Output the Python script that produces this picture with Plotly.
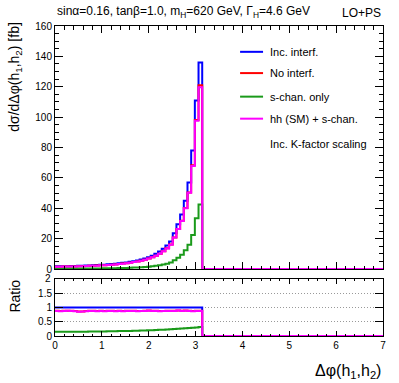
import numpy as np
import plotly.graph_objects as go
from plotly.subplots import make_subplots

# dsigma/dDeltaphi [fb], 40 bins from 0 to pi
inc_interf = [1.8, 1.8, 1.9, 1.9, 2.0, 2.0, 2.1, 2.2, 2.3, 2.4,
              2.5, 2.6, 2.8, 2.9, 3.1, 3.3, 3.5, 3.8, 4.1, 4.4,
              4.8, 5.2, 5.7, 6.3, 7.0, 7.8, 8.8, 10.0, 11.5, 13.3,
              15.5, 18.2, 23.5, 29.5, 36.0, 45.0, 57.0, 78.0, 111.0, 136.0]
no_interf = [1.59, 1.58, 1.68, 1.69, 1.77, 1.75, 1.80, 1.90, 2.01, 2.12,
             2.21, 2.27, 2.47, 2.53, 2.74, 2.91, 3.06, 3.35, 3.59, 3.88,
             4.23, 4.59, 4.98, 5.55, 6.17, 6.95, 7.76, 8.82, 10.1, 11.7,
             13.7, 16.1, 20.8, 26.4, 31.8, 40.2, 50.4, 68.3, 98.2, 121.0]
s_chan = [0.27, 0.27, 0.28, 0.29, 0.30, 0.30, 0.32, 0.33, 0.35, 0.37,
          0.39, 0.41, 0.45, 0.47, 0.51, 0.55, 0.59, 0.65, 0.71, 0.78,
          0.86, 0.95, 1.06, 1.19, 1.35, 1.55, 1.80, 2.10, 2.50, 2.95,
          3.50, 4.30, 5.80, 7.50, 9.50, 12.4, 16.0, 22.5, 33.4, 42.5]
hh_plus_s = [1.58, 1.57, 1.67, 1.69, 1.76, 1.74, 1.79, 1.89, 2.00, 2.11,
             2.20, 2.26, 2.46, 2.52, 2.73, 2.90, 3.05, 3.34, 3.57, 3.87,
             4.22, 4.58, 4.96, 5.54, 6.16, 6.94, 7.74, 8.80, 10.0, 11.7,
             13.6, 16.0, 20.7, 26.3, 31.7, 40.0, 50.2, 67.9, 97.7, 119.7]

series = [("Inc. interf.", inc_interf, "#0000ff"),
          ("No interf.", no_interf, "#ff0000"),
          ("s-chan. only", s_chan, "#1a9a1a"),
          ("hh (SM) + s-chan.", hh_plus_s, "#ff00ff")]

ratio_ticks = [0, 0.5, 1, 1.5]
ratio_labels = ["0", "0.5", "1", "1.5"]

edges = list(np.linspace(0, np.pi, 41)) + [7.0]
font = "Liberation Sans, Arial, sans-serif"

fig = make_subplots(rows=2, cols=1, shared_xaxes=False,
                    row_heights=[0.81, 0.19], vertical_spacing=0.032)

ref = np.array(inc_interf)
for name, vals, col in series:
    y = list(vals) + [0, 0]
    fig.add_trace(go.Scatter(x=edges, y=y, mode="lines", line_shape="hv",
                             line=dict(color=col, width=2), showlegend=False),
                  row=1, col=1)
    r = list(np.array(vals) / ref) + [0, 0]
    fig.add_trace(go.Scatter(x=edges, y=r, mode="lines", line_shape="hv",
                             line=dict(color=col, width=2), showlegend=False),
                  row=2, col=1)

axis_common = dict(showline=True, linecolor="black", linewidth=1, mirror="ticks",
                   ticks="inside", tickcolor="black", zeroline=False,
                   tickfont=dict(family=font, size=10, color="black"))

fig.update_xaxes(range=[0, 7], dtick=1, ticklen=7, showgrid=False,
                 minor=dict(dtick=0.2, ticks="inside", ticklen=3.5, tickcolor="black"),
                 **axis_common)
fig.update_xaxes(showticklabels=False, row=1, col=1)
fig.update_xaxes(ticklen=5, minor=dict(dtick=0.2, ticks="inside", ticklen=2.5), row=2, col=1)

fig.update_yaxes(range=[0, 160], dtick=20, ticklen=8, showgrid=False,
                 minor=dict(dtick=5, ticks="inside", ticklen=4, tickcolor="black"),
                 row=1, col=1, **axis_common)
fig.update_yaxes(range=[0, 2], tickvals=ratio_ticks, ticktext=ratio_labels,
                 ticklen=8, showgrid=True, gridcolor="#999999", griddash="1px,2px", gridwidth=1,
                 row=2, col=1, **axis_common)
# top label of the ratio axis (plotly drops it next to the upper panel)
fig.add_annotation(xref="paper", yref="y2", x=0, y=2, xshift=-2, text="2",
                   showarrow=False, xanchor="right", yanchor="middle",
                   font=dict(family=font, size=10, color="black"))

# legend drawn by hand
leg_y = [143, 129, 113.5, 99]
for (name, vals, col), ly in zip(series, leg_y):
    fig.add_shape(type="line", xref="x", yref="y", x0=3.95, x1=4.44, y0=ly, y1=ly,
                  line=dict(color=col, width=2))
    fig.add_annotation(xref="x", yref="y", x=4.55, y=ly, text=name, showarrow=False,
                       xanchor="left", yanchor="middle",
                       font=dict(family=font, size=11, color="black"))
fig.add_annotation(xref="x", yref="y", x=4.55, y=82.5, text="Inc. K-factor scaling",
                   showarrow=False, xanchor="left", yanchor="middle",
                   font=dict(family=font, size=11, color="black"))

# header
fig.add_annotation(xref="paper", yref="paper", x=0, y=1.0, yshift=4,
                   text="sinα=0.16, tanβ=1.0, m<sub>H</sub>=620 GeV, Γ<sub>H</sub>=4.6 GeV",
                   showarrow=False, xanchor="left", yanchor="bottom",
                   font=dict(family=font, size=12, color="black"))
fig.add_annotation(xref="paper", yref="paper", x=1, y=1.0, yshift=4, text="LO+PS",
                   showarrow=False, xanchor="right", yanchor="bottom",
                   font=dict(family=font, size=12, color="black"))

# axis titles
fig.add_annotation(xref="paper", yref="paper", x=-0.122, y=1.02,
                   text="dσ/dΔφ(h<sub>1</sub>,h<sub>2</sub>) [fb]", textangle=-90,
                   showarrow=False, xanchor="center", yanchor="top",
                   font=dict(family=font, size=14, color="black"))
fig.add_annotation(xref="paper", yref="paper", x=-0.122, y=0.19,
                   text="Ratio", textangle=-90,
                   showarrow=False, xanchor="center", yanchor="top",
                   font=dict(family=font, size=14, color="black"))
fig.add_annotation(xref="paper", yref="paper", x=1, y=0, yshift=-24,
                   text="Δφ(h<sub>1</sub>,h<sub>2</sub>)",
                   showarrow=False, xanchor="right", yanchor="top",
                   font=dict(family=font, size=16, color="black"))

fig.update_layout(width=399, height=383, margin=dict(l=55, r=16, t=26, b=47),
                  plot_bgcolor="white", paper_bgcolor="white", showlegend=False)

fig.write_html("out.html", config={"displayModeBar": False},
               post_script="document.body.style.margin='0';document.body.style.overflow='hidden';")
